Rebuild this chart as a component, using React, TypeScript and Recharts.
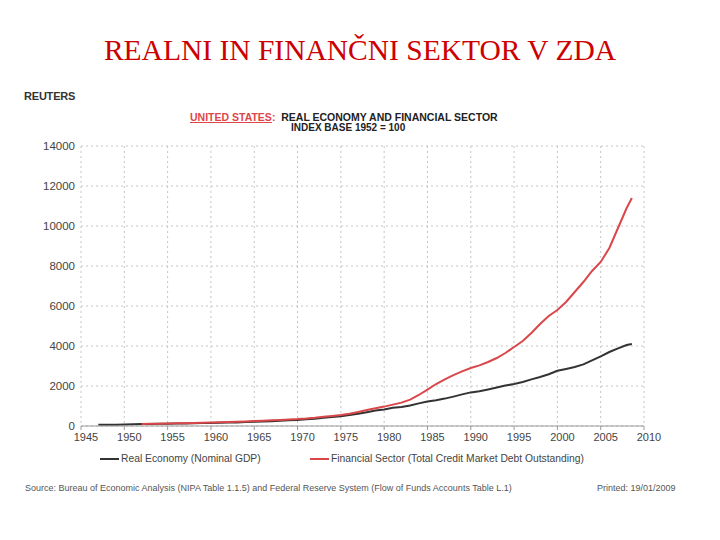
import React from "react";
import { LineChart, Line, XAxis, YAxis, CartesianGrid } from "recharts";

const years = [
  1947, 1948, 1949, 1950, 1951, 1952, 1953, 1954, 1955, 1956, 1957, 1958, 1959,
  1960, 1961, 1962, 1963, 1964, 1965, 1966, 1967, 1968, 1969, 1970, 1971, 1972,
  1973, 1974, 1975, 1976, 1977, 1978, 1979, 1980, 1981, 1982, 1983, 1984, 1985,
  1986, 1987, 1988, 1989, 1990, 1991, 1992, 1993, 1994, 1995, 1996, 1997, 1998,
  1999, 2000, 2001, 2002, 2003, 2004, 2005, 2006, 2007, 2008, 2008.6,
];

const realEconomy = [
  60, 66, 67, 74, 85, 100, 106, 108, 117, 124, 131, 134, 146,
  152, 158, 170, 180, 194, 211, 230, 243, 266, 288, 305, 332, 366,
  410, 445, 490, 545, 610, 690, 770, 830, 910, 950, 1030, 1130, 1220,
  1290, 1370, 1470, 1580, 1680, 1740, 1830, 1920, 2020, 2100, 2200, 2330, 2450,
  2590, 2760, 2850, 2950, 3080, 3280, 3480, 3700, 3880, 4050, 4100,
];

const financialSector = [
  null, null, null, null, null, 100, 108, 115, 126, 134, 141, 150, 162,
  171, 182, 196, 212, 229, 248, 265, 282, 305, 326, 345, 375, 415,
  465, 505, 550, 615, 700, 800, 890, 970, 1070, 1170, 1320, 1550, 1820,
  2100, 2330, 2540, 2730, 2900, 3030, 3200, 3400, 3650, 3950, 4250, 4650, 5100,
  5500, 5800, 6200, 6700, 7200, 7750, 8200, 8900, 9900, 10900, 11400,
];

const xTicks = [1945, 1950, 1955, 1960, 1965, 1970, 1975, 1980, 1985, 1990, 1995, 2000, 2005, 2010];
const yTicks = [0, 2000, 4000, 6000, 8000, 10000, 12000, 14000];

const title = "REALNI IN FINANČNI SEKTOR V ZDA";
const brand = "REUTERS";
const headerCountry = "UNITED STATES";
const headerTitle = "REAL ECONOMY AND FINANCIAL SECTOR";
const headerSub = "INDEX BASE 1952 = 100";
const legendBlack = "Real Economy (Nominal GDP)";
const legendRed = "Financial Sector (Total Credit Market Debt Outstanding)";
const sourceText =
  "Source:  Bureau of Economic Analysis (NIPA Table 1.1.5) and Federal Reserve System (Flow of Funds Accounts Table L.1)";
const printedText = "Printed:  19/01/2009";

const data = years.map((y, i) => ({
  year: y,
  real: realEconomy[i],
  fin: financialSector[i],
}));

const sans = "'Liberation Sans', Arial, sans-serif";
const RED = "#d9474a";

export default function App() {
  return (
    <div style={{ position: "absolute", left: 0, top: 0, width: 720, height: 540, background: "#fff", overflow: "hidden" }}>
      <div
        style={{
          position: "absolute",
          left: 0,
          top: 32,
          width: 720,
          textAlign: "center",
          fontFamily: "'Liberation Serif', 'Times New Roman', serif",
          fontSize: 29.5,
          color: "#cc0000",
          lineHeight: "36px",
          whiteSpace: "nowrap",
        }}
      >
        {title}
      </div>
      <div style={{ position: "absolute", left: 24, top: 90, fontFamily: sans, fontWeight: "bold", fontSize: 11, color: "#333", letterSpacing: -0.2 }}>
        {brand}
      </div>
      <div style={{ position: "absolute", left: 190, top: 111, fontFamily: sans, fontWeight: "bold", fontSize: 10.5, color: "#222", whiteSpace: "nowrap" }}>
        <span style={{ color: "#e0454a", textDecoration: "underline" }}>{headerCountry}</span>
        <span style={{ color: "#e0454a" }}>:</span>
        <span>&nbsp;&nbsp;{headerTitle}</span>
      </div>
      <div style={{ position: "absolute", left: 291, top: 122, fontFamily: sans, fontWeight: "bold", fontSize: 10, color: "#222", whiteSpace: "nowrap" }}>
        {headerSub}
      </div>

      <div style={{ position: "absolute", left: 0, top: 0 }}>
        <LineChart width={720} height={540} data={data} margin={{ top: 146, right: 76, left: 0, bottom: 0 }}>
          <CartesianGrid stroke="#c4c4c4" strokeDasharray="2 3" />
          <XAxis
            dataKey="year"
            type="number"
            domain={[1945, 2010]}
            ticks={xTicks}
            interval={0}
            height={114}
            tickSize={4}
            tickMargin={3}
            stroke="#9a9a9a"
            tick={{ fill: "#444", fontSize: 11, fontFamily: sans, dx: 5 }}
            allowDataOverflow
          />
          <YAxis
            type="number"
            domain={[0, 14000]}
            ticks={yTicks}
            interval={0}
            width={81}
            axisLine={false}
            tickLine={false}
            tickSize={6}
            tickMargin={0}
            tick={{ fill: "#444", fontSize: 11.5, fontFamily: sans }}
          />
          <Line
            type="linear"
            dataKey="real"
            stroke="#333"
            strokeWidth={2}
            dot={false}
            isAnimationActive={false}
            connectNulls={false}
          />
          <Line
            type="linear"
            dataKey="fin"
            stroke={RED}
            strokeWidth={2}
            dot={false}
            isAnimationActive={false}
            connectNulls={false}
          />
        </LineChart>
      </div>

      <div style={{ position: "absolute", left: 100, top: 453, fontFamily: sans, fontSize: 10.3, color: "#444", whiteSpace: "nowrap", display: "flex", alignItems: "center" }}>
        <span style={{ display: "inline-block", width: 19, height: 2, background: "#333", marginRight: 2 }} />
        <span>{legendBlack}</span>
      </div>
      <div style={{ position: "absolute", left: 310, top: 453, fontFamily: sans, fontSize: 10.3, color: "#444", whiteSpace: "nowrap", display: "flex", alignItems: "center" }}>
        <span style={{ display: "inline-block", width: 19, height: 2, background: RED, marginRight: 2 }} />
        <span>{legendRed}</span>
      </div>
      <div style={{ position: "absolute", left: 25, top: 483, fontFamily: sans, fontSize: 9, color: "#555", whiteSpace: "nowrap" }}>
        {sourceText}
      </div>
      <div style={{ position: "absolute", left: 597, top: 483, fontFamily: sans, fontSize: 9, color: "#555", whiteSpace: "nowrap" }}>
        {printedText}
      </div>
    </div>
  );
}
